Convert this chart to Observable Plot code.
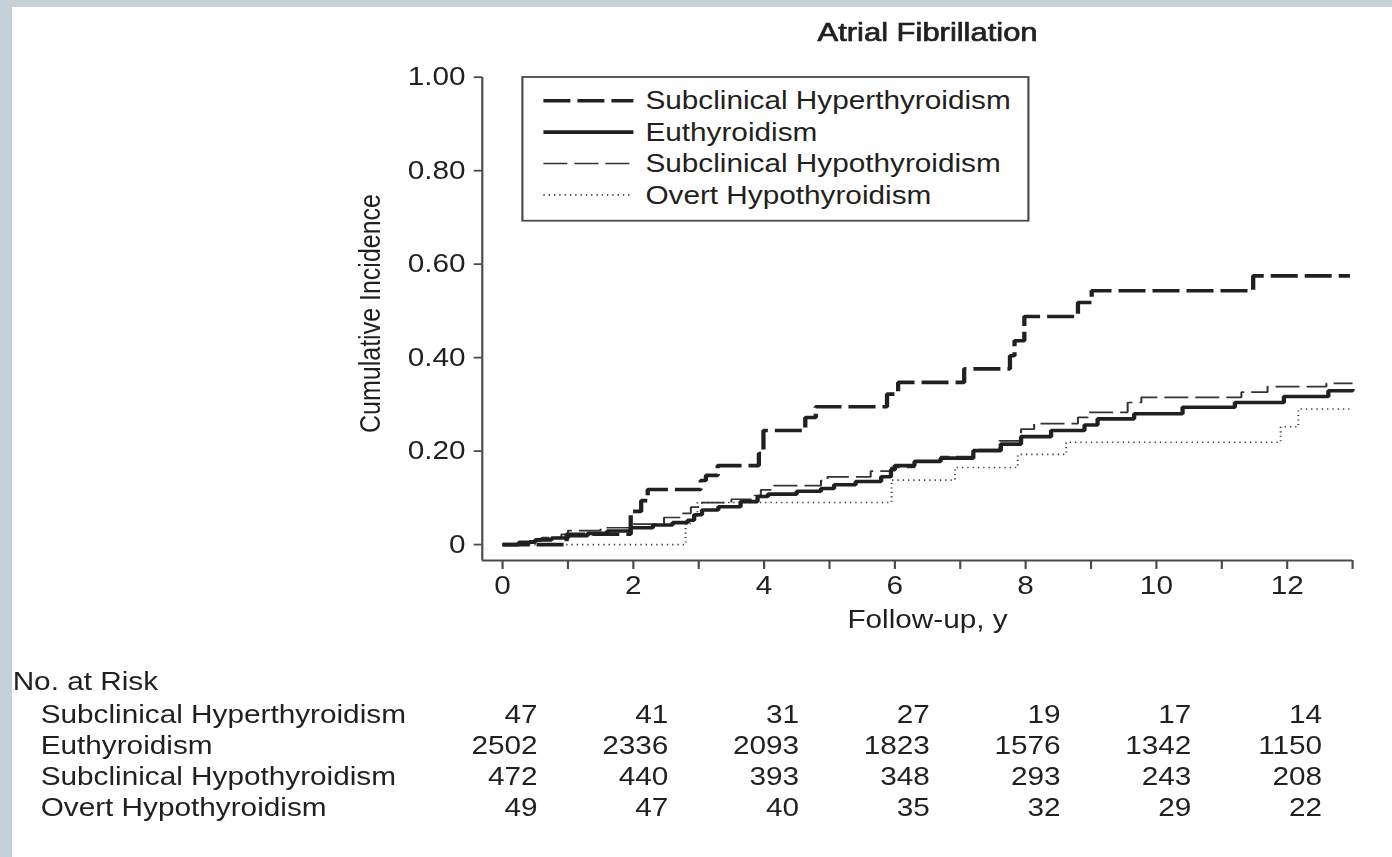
<!DOCTYPE html>
<html><head><meta charset="utf-8">
<script src="https://cdn.jsdelivr.net/npm/d3@7"></script>
<script src="https://cdn.jsdelivr.net/npm/@observablehq/plot@0.6"></script>
<style>
html,body{margin:0;padding:0;background:#c6d0d7;width:1392px;height:857px;overflow:hidden;}
#panel{position:absolute;left:12px;top:7px;width:1380px;height:850px;background:#fff;}
#stage{position:absolute;left:0;top:0;height:857px;transform-origin:0 0;}
#stage svg{position:absolute;overflow:visible;}
</style></head><body>
<div id="panel"></div>
<div id="stage"></div>
<script>
// ---------- data ----------
const title = "Atrial Fibrillation";
const xLabel = "Follow-up, y";
const yLabel = "Cumulative Incidence";
const riskTitle = "No. at Risk";
const groups = ["Subclinical Hyperthyroidism", "Euthyroidism", "Subclinical Hypothyroidism", "Overt Hypothyroidism"];

const hyperT = [0, 0.98, 1.96, 2.12, 2.22, 3.03, 3.11, 3.29, 3.92, 3.99, 4.63, 4.79, 5.88, 6.05, 7.06, 7.76, 7.83, 7.98, 8.80, 9.01, 11.48, 12.96];
const hyperV = [0, 0.022, 0.071, 0.094, 0.118, 0.137, 0.148, 0.169, 0.195, 0.244, 0.272, 0.295, 0.322, 0.347, 0.376, 0.404, 0.436, 0.488, 0.518, 0.543, 0.575, 0.575];

const euT = [0, 0.25, 0.5, 0.75, 1.0, 1.3, 1.6, 1.96, 2.3, 2.6, 2.83, 2.93, 3.05, 3.3, 3.64, 3.9, 4.06, 4.5, 4.87, 5.07, 5.4, 5.79, 5.94, 6.0, 6.3, 6.7, 7.2, 7.62, 7.93, 8.39, 8.9, 9.1, 9.66, 10.4, 11.2, 11.95, 12.63, 13.0];
const euV = [0, 0.005, 0.010, 0.014, 0.019, 0.024, 0.029, 0.036, 0.042, 0.047, 0.052, 0.064, 0.074, 0.081, 0.092, 0.103, 0.108, 0.114, 0.120, 0.128, 0.135, 0.145, 0.160, 0.169, 0.178, 0.185, 0.201, 0.215, 0.231, 0.244, 0.256, 0.269, 0.280, 0.294, 0.304, 0.317, 0.329, 0.333];

const subT = [0, 0.3, 0.6, 0.9, 1.0, 1.5, 2.0, 2.47, 2.72, 2.88, 3.05, 3.5, 3.85, 3.95, 4.15, 4.87, 4.97, 5.63, 5.94, 6.3, 6.7, 7.2, 7.6, 7.93, 8.13, 8.8, 8.95, 9.56, 9.77, 11.3, 11.7, 12.6, 13.0];
const subV = [0, 0.008, 0.015, 0.022, 0.030, 0.036, 0.044, 0.058, 0.067, 0.080, 0.090, 0.097, 0.105, 0.117, 0.126, 0.137, 0.145, 0.157, 0.165, 0.178, 0.188, 0.203, 0.222, 0.247, 0.259, 0.272, 0.283, 0.304, 0.315, 0.326, 0.338, 0.345, 0.345];

const overtT = [0, 2.8, 2.88, 2.98, 5.95, 6.92, 7.88, 8.62, 11.9, 12.17, 12.98];
const overtV = [0, 0.045, 0.058, 0.090, 0.138, 0.165, 0.193, 0.219, 0.252, 0.290, 0.290];

const yTicks = [0, 0.2, 0.4, 0.6, 0.8, 1.0];
const yTickLabels = ["0", "0.20", "0.40", "0.60", "0.80", "1.00"];
const xTicks = [0, 1, 2, 3, 4, 5, 6, 7, 8, 9, 10, 11, 12, 13];
const xTickLabels = [0, 2, 4, 6, 8, 10, 12];

const riskTimes = [0, 2, 4, 6, 8, 10, 12];
const riskHyper = [47, 41, 31, 27, 19, 17, 14];
const riskEu = [2502, 2336, 2093, 1823, 1576, 1342, 1150];
const riskSub = [472, 440, 393, 348, 293, 243, 208];
const riskOvert = [49, 47, 40, 35, 32, 29, 22];

// ---------- layout / style ----------
const S = 1.19;                 // horizontal stretch of the reference figure
const W = 1392 / S;
const FONT = '"Liberation Sans", Arial, Helvetica, sans-serif';
const INK = "#231f20";
const AXIS = "#4a4a4a";
const FS = 25;
const FL = 481.7, FR = 1352;    // frame left / right (page px)
const xDomain = [-0.31, 13];
const yDomain = [-0.034, 1];
const mainH = 645;

const series = [
  {g: groups[3], t: overtT, v: overtV, stroke: "#3a3a3a", width: 1.6, dash: `${1.3/S},${4/S}`},
  {g: groups[2], t: subT, v: subV, stroke: "#333", width: 1.7, dash: `${24/S},${7/S}`},
  {g: groups[1], t: euT, v: euV, stroke: INK, width: 3.6, dash: null},
  {g: groups[0], t: hyperT, v: hyperV, stroke: INK, width: 3.6, dash: `${27/S},${7/S}`}
];
const styleOf = Object.fromEntries(series.map(s => [s.g, s]));

const lineMarks = series.map(s => Plot.line(
  s.t.map((t, i) => ({t, v: s.v[i]})),
  {x: "t", y: "v", curve: "step-after", stroke: s.stroke, strokeWidth: s.width,
   strokeDasharray: s.dash || undefined, strokeLinecap: "butt", strokeLinejoin: "miter"}
));

const plotStyle = {fontFamily: FONT, fontSize: FS + "px", color: INK, background: "transparent", overflow: "visible"};
const xMid = (xTicks[0] + xTicks[xTicks.length - 1]) / 2;

const main = Plot.plot({
  width: W, height: mainH,
  marginLeft: FL / S, marginRight: (1392 - FR) / S, marginTop: 76.7, marginBottom: mainH - 560,
  x: {domain: xDomain},
  y: {domain: yDomain},
  style: plotStyle,
  marks: [
    Plot.ruleX([xDomain[0]], {stroke: AXIS, strokeWidth: 1.8}),
    Plot.ruleY([yDomain[0]], {stroke: AXIS, strokeWidth: 1.8}),
    Plot.axisY({ticks: yTicks, tickFormat: d => yTickLabels[yTicks.indexOf(d)], tickSize: 8 / S, tickPadding: 8.7 / S,
      stroke: AXIS, strokeWidth: 1.8, fill: INK, fontSize: FS, label: null}),
    Plot.axisX({ticks: xTicks, tickFormat: d => xTickLabels.includes(d) ? String(d) : "", tickSize: 9, tickPadding: 7,
      stroke: AXIS, strokeWidth: 1.8, fill: INK, fontSize: FS, label: null}),
    ...lineMarks,
    Plot.text([title], {x: xMid, frameAnchor: "top", lineAnchor: "middle", dy: 32 - 76.7, fontWeight: "normal",
      fontSize: 26, fill: INK, stroke: INK, strokeWidth: 0.7, letterSpacing: 0.6}),
    Plot.text([xLabel], {x: xMid, frameAnchor: "bottom", lineAnchor: "middle", dy: 620 - 560, fontSize: FS, fill: INK}),
    Plot.text([yLabel], {frameAnchor: "left", textAnchor: "middle", lineAnchor: "middle", rotate: -90,
      dx: (370 - FL) / S, dy: 313 - (76.7 + 560) / 2, fontSize: FS, fill: INK})
  ]
});

// ---------- risk table ----------
const riskRows = [riskHyper, riskEu, riskSub, riskOvert];
const riskData = groups.flatMap((g, gi) => riskTimes.map((t, i) => ({group: g, t, n: riskRows[gi][i]})));
const riskH = 212;
const risk = Plot.plot({
  width: W, height: riskH,
  marginLeft: FL / S, marginRight: (1392 - FR) / S, marginTop: 53.2, marginBottom: 32.4,
  x: {domain: xDomain, axis: null},
  y: {type: "band", domain: groups, padding: 0, axis: null},
  style: plotStyle,
  marks: [
    Plot.text([riskTitle], {frameAnchor: "top-left", textAnchor: "start", lineAnchor: "middle", dx: (12 - FL) / S, dy: 36 - 53.2, fontSize: FS, fill: INK}),
    Plot.text(groups, {y: d => d, text: d => d, frameAnchor: "left", textAnchor: "start", dx: (40 - FL) / S, fontSize: FS, fill: INK}),
    Plot.text(riskData, {x: "t", y: "group", text: d => String(d.n), textAnchor: "end", dx: 35 / S, fontSize: FS, fill: INK})
  ]
});

// ---------- legend ----------
const lgBox = {left: 522, top: 77, right: 1028, bottom: 220.7};
const lgW = (lgBox.right - lgBox.left) / S, lgH = lgBox.bottom - lgBox.top;
const lg = d3.create("svg").attr("width", lgW).attr("height", lgH)
  .style("left", (lgBox.left / S) + "px").style("top", lgBox.top + "px")
  .style("font-family", FONT).style("font-size", FS + "px");
lg.append("rect").attr("x", 0).attr("y", 0).attr("width", lgW).attr("height", lgH)
  .attr("fill", "white").attr("stroke", AXIS).attr("stroke-width", 1.8);
groups.forEach((g, i) => {
  const s = styleOf[g];
  const y = 23.7 + i * 31.4;
  lg.append("line").attr("x1", 21 / S).attr("x2", 111 / S).attr("y1", y).attr("y2", y)
    .attr("stroke", s.stroke).attr("stroke-width", s.width)
    .attr("stroke-dasharray", s.dash || null);
  lg.append("text").attr("x", 123 / S).attr("y", y).attr("dy", "0.35em").attr("fill", INK).text(g);
});

// ---------- assemble ----------
const stage = document.getElementById("stage");
stage.style.width = W + "px";
stage.style.transform = `scaleX(${S})`;
main.style.left = "0px"; main.style.top = "0px";
risk.style.left = "0px"; risk.style.top = mainH + "px";
stage.appendChild(main);
stage.appendChild(risk);
stage.appendChild(lg.node());
</script></body></html>
